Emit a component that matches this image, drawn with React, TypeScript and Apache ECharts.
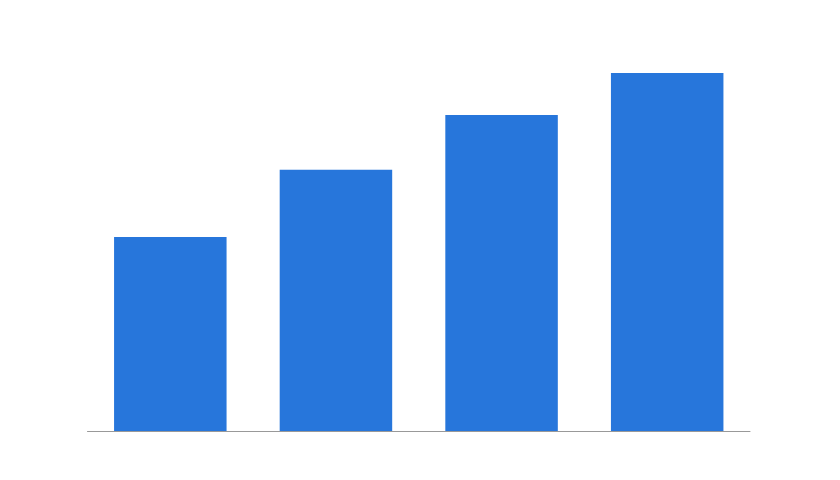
import React, { useEffect, useRef } from 'react';
import * as echarts from 'echarts';

// 四根柱子，无标签
const categories = ['A', 'B', 'C', 'D'];
const values = [48.5, 65.3, 79, 89.5];

const App = () => {
    const chartRef = useRef(null);

    useEffect(() => {
        document.body.style.margin = '0';
        const chart = echarts.init(chartRef.current, null, { renderer: 'svg' });

        chart.setOption({
            animation: false,
            grid: { left: 87.5, right: 90, top: 31, bottom: 49 },
            xAxis: {
                type: 'category',
                data: categories,
                axisLine: { lineStyle: { color: '#999', width: 1 } },
                axisTick: { show: false },
                axisLabel: { show: false }
            },
            yAxis: {
                type: 'value',
                min: 0,
                max: 100,
                show: false,
                splitLine: { show: false }
            },
            series: [{
                type: 'bar',
                data: values,
                barWidth: 112.5,
                itemStyle: { color: '#2776db' }
            }]
        });

        return () => {
            chart.dispose();
        };
    }, []);

    return (
        <div ref={chartRef} style={{ width: '840px', height: '480px' }}></div>
    );
};

export default App;
